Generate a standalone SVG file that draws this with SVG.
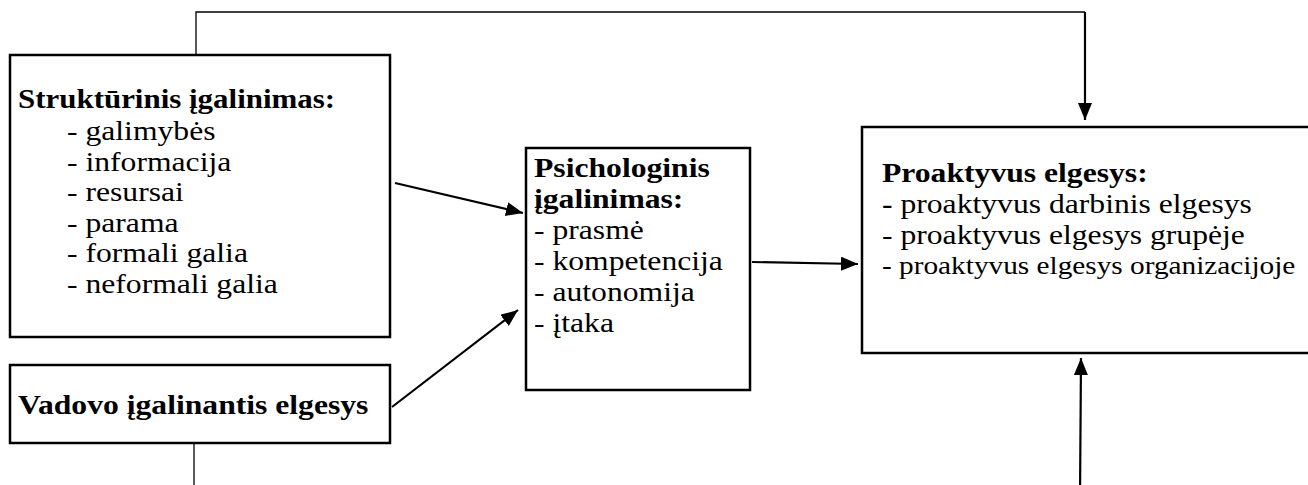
<svg xmlns="http://www.w3.org/2000/svg" width="1308" height="485" viewBox="0 0 1308 485">
<style>
.box{fill:#fff;stroke:#000;stroke-width:2.5}
.t{font-family:"Liberation Serif","Times New Roman",Times,"DejaVu Serif",serif;font-size:27px;fill:#000}
.b{font-weight:bold}
.s{font-size:25px}
.c{fill:none;stroke:#000;stroke-width:2.2}
.thin{fill:none;stroke:#000;stroke-width:1.3}
</style>
<defs>
<marker id="ah" markerUnits="userSpaceOnUse" markerWidth="17" markerHeight="14" refX="17" refY="7" orient="auto">
<path d="M0,0 L17,7 L0,14 z" fill="#000"/>
</marker>
</defs>
<g id="connectors">
<path class="thin" d="M196,55 V12 H1085"/>
<path class="c" d="M1085,12 V120" marker-end="url(#ah)"/>
<path class="thin" d="M194,443 V500"/>
<path class="c" d="M1080,500 L1081,358" marker-end="url(#ah)"/>
<line class="c" x1="395" y1="183" x2="523" y2="213" marker-end="url(#ah)"/>
<line class="c" x1="392" y1="407" x2="518" y2="310" marker-end="url(#ah)"/>
<line class="c" x1="752" y1="262" x2="858" y2="264" marker-end="url(#ah)"/>
</g>
<g id="strukturinis">
<rect class="box" x="10" y="55" width="380" height="282"/>
<text class="t b" transform="translate(18,108) scale(1.172,1)" style="font-size:26.4px">Struktūrinis įgalinimas:</text>
<text class="t" transform="translate(67,140) scale(1.172,1)">- galimybės</text>
<text class="t" transform="translate(67,171) scale(1.172,1)">- informacija</text>
<text class="t" transform="translate(67,201) scale(1.172,1)">- resursai</text>
<text class="t" transform="translate(67,232) scale(1.172,1)">- parama</text>
<text class="t" transform="translate(67,262) scale(1.172,1)">- formali galia</text>
<text class="t" transform="translate(67,293) scale(1.172,1)">- neformali galia</text>
</g>
<g id="vadovo">
<rect class="box" x="10" y="365" width="380" height="78"/>
<text class="t b" transform="translate(18,414) scale(1.172,1)">Vadovo įgalinantis elgesys</text>
</g>
<g id="psichologinis">
<rect class="box" x="526" y="148" width="224" height="242"/>
<text class="t b" transform="translate(534,177) scale(1.172,1)">Psichologinis</text>
<text class="t b" transform="translate(534,208) scale(1.172,1)">įgalinimas:</text>
<text class="t" transform="translate(534,239) scale(1.172,1)">- prasmė</text>
<text class="t" transform="translate(534,270) scale(1.172,1)">- kompetencija</text>
<text class="t" transform="translate(534,301) scale(1.172,1)">- autonomija</text>
<text class="t" transform="translate(534,332) scale(1.172,1)">- įtaka</text>
</g>
<g id="proaktyvus">
<rect class="box" x="862" y="127" width="460" height="226"/>
<text class="t b" transform="translate(882,182) scale(1.172,1)">Proaktyvus elgesys:</text>
<text class="t" transform="translate(882,213) scale(1.172,1)"><tspan class="b">-</tspan> proaktyvus darbinis elgesys</text>
<text class="t" transform="translate(882,244) scale(1.172,1)">- proaktyvus elgesys grupėje</text>
<text class="t s" transform="translate(882,274) scale(1.172,1)">- proaktyvus elgesys organizacijoje</text>
</g>
</svg>
